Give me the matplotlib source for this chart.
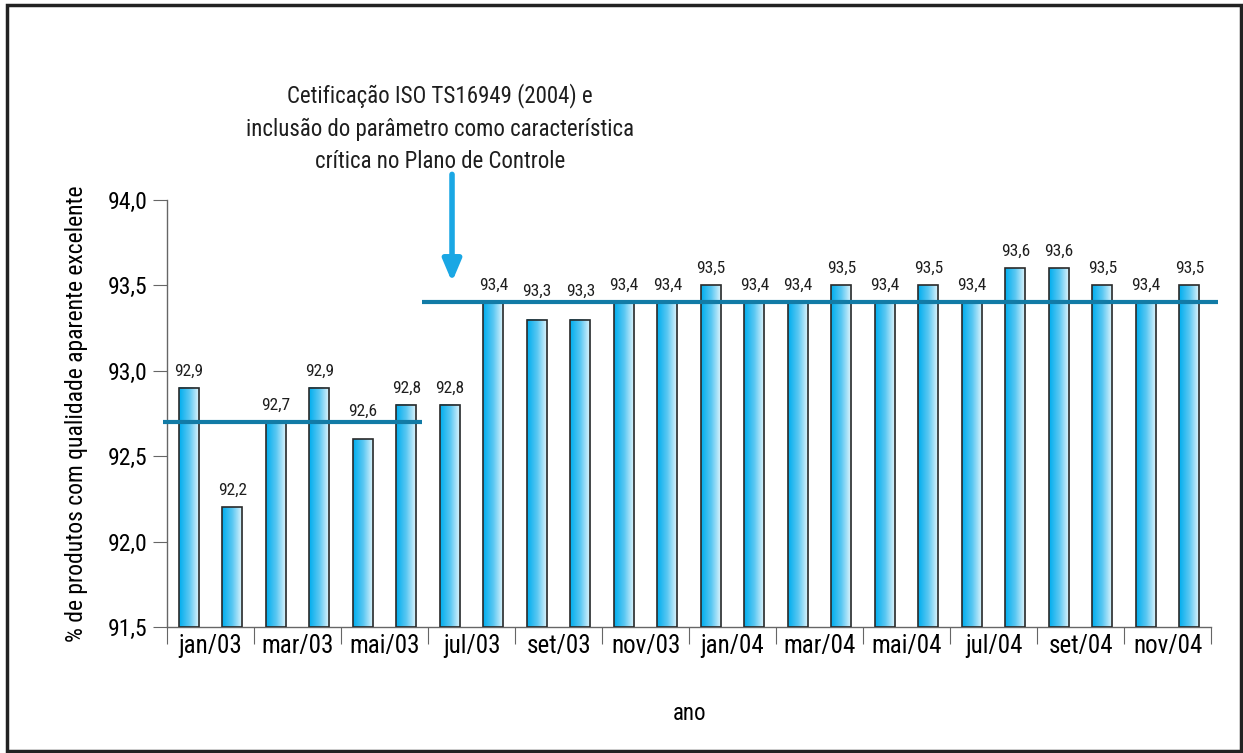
import numpy as np
import matplotlib
matplotlib.use("Agg")
import matplotlib.pyplot as plt
from matplotlib.colors import LinearSegmentedColormap
from matplotlib.patches import Rectangle

plt.rcParams['font.family'] = ['Roboto Condensed', 'DejaVu Sans']

months = ["jan/03", "fev/03", "mar/03", "abr/03", "mai/03", "jun/03",
          "jul/03", "ago/03", "set/03", "out/03", "nov/03", "dez/03",
          "jan/04", "fev/04", "mar/04", "abr/04", "mai/04", "jun/04",
          "jul/04", "ago/04", "set/04", "out/04", "nov/04", "dez/04"]
values = [92.9, 92.2, 92.7, 92.9, 92.6, 92.8,
          92.8, 93.4, 93.3, 93.3, 93.4, 93.4,
          93.5, 93.4, 93.4, 93.5, 93.4, 93.5,
          93.4, 93.6, 93.6, 93.5, 93.4, 93.5]
avg_before = 92.7
avg_after = 93.4
yticks = [91.5, 92.0, 92.5, 93.0, 93.5, 94.0]
note = ("Cetificação ISO TS16949 (2004) e\n"
        "inclusão do parâmetro como característica\n"
        "crítica no Plano de Controle")

fig = plt.figure(figsize=(12.43, 7.53), dpi=100)
ax = fig.add_axes([0.1344, 0.1673, 0.84, 0.5671])

ymin, ymax = 91.5, 94.0
x = np.arange(len(values))
bw = 0.46
cmap = LinearSegmentedColormap.from_list("barfill", ["#00aeef", "#5cc8f2", "#e8f7fd"])
grad = np.linspace(0, 1, 64).reshape(1, -1)

for i, (xi, v) in enumerate(zip(x, values)):
    ax.imshow(grad, cmap=cmap, aspect='auto', zorder=2,
              extent=(xi - bw / 2, xi + bw / 2, ymin, v))
    ax.add_patch(Rectangle((xi - bw / 2, ymin), bw, v - ymin, fill=False,
                           edgecolor="#2a2a2a", linewidth=1.2, zorder=3))
    # rotulo sobe quando a linha da media passa logo acima da barra
    avg = avg_before if i < 6 else avg_after
    off = 0.12 if v < avg < v + 0.12 else 0.055
    ax.text(xi, v + off, f"{v:.1f}".replace(".", ","), ha='center',
            va='bottom', fontsize=12.5, color="#1e1e1e")

# media antes e depois da certificacao
ax.plot([-0.6, 5.36], [avg_before, avg_before], color="#127ba6", lw=3,
        solid_capstyle='butt', clip_on=False, zorder=4)
ax.plot([5.36, 23.65], [avg_after, avg_after], color="#127ba6", lw=3,
        solid_capstyle='butt', clip_on=False, zorder=4)

ax.annotate("", xy=(6.05, 93.52), xytext=(6.05, 94.15),
            arrowprops=dict(arrowstyle="-|>,head_width=0.55,head_length=1.3",
                            color="#1aa7e4", lw=4, shrinkA=0, shrinkB=0),
            annotation_clip=False)
fig.text(440 / 1243, 1 - 128 / 753, note, ha='center', va='center',
         fontsize=16.5, linespacing=1.5, color="#1e1e1e")

ax.set_xlim(-0.5, len(values) - 0.5)
ax.set_ylim(ymin, ymax)
ax.set_yticks(yticks)
ax.set_yticklabels([f"{t:.1f}".replace(".", ",") for t in yticks], fontsize=17)

ax.set_xticks(np.arange(-0.5, len(values), 2))
ax.set_xticklabels([])
ax.set_xticks(np.arange(0.5, len(values), 2), minor=True)
ax.set_xticklabels(months[::2], minor=True, fontsize=18)
ax.tick_params(axis='x', which='major', length=12, direction='out', color="#666666")
ax.tick_params(axis='x', which='minor', length=0, pad=5)
ax.tick_params(axis='y', length=10, direction='out', color="#666666", pad=4)

for s in ["top", "right"]:
    ax.spines[s].set_visible(False)
for s in ["left", "bottom"]:
    ax.spines[s].set_color("#666666")
    ax.spines[s].set_linewidth(1.0)

ax.set_ylabel("% de produtos com qualidade aparente excelente", fontsize=17, labelpad=14)
fig.text(690 / 1243, 1 - 713 / 753, "ano", ha='center', va='center', fontsize=16.5)

fig.add_artist(Rectangle((7 / 1243, 2 / 753), 1234 / 1243, 746 / 753,
                         transform=fig.transFigure, fill=False,
                         edgecolor="#222222", linewidth=2.5))

fig.savefig("out.png", dpi=100)
